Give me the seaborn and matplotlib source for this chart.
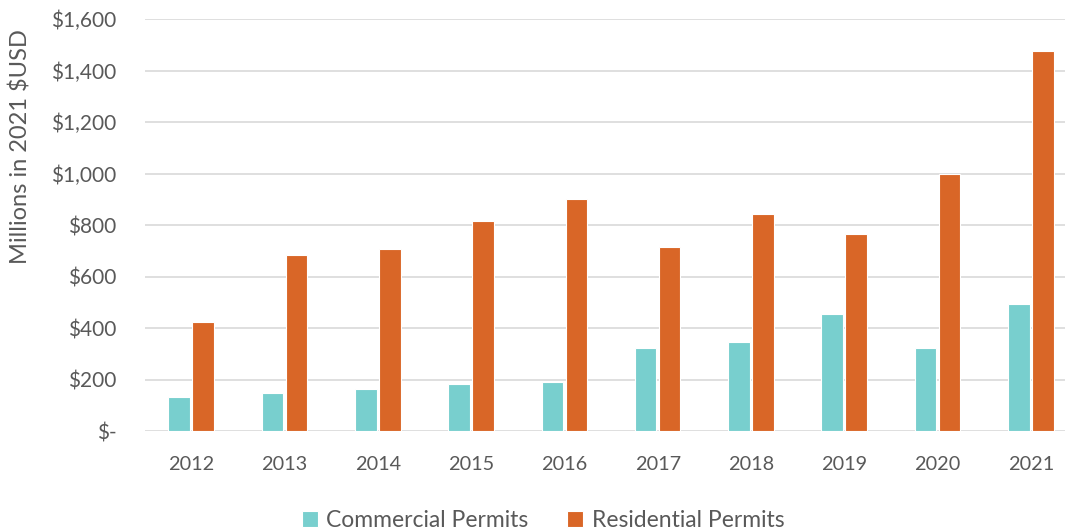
import matplotlib
matplotlib.use("Agg")
import matplotlib.pyplot as plt
import seaborn as sns
import pandas as pd
from matplotlib.ticker import FuncFormatter

years = ["2012", "2013", "2014", "2015", "2016", "2017", "2018", "2019", "2020", "2021"]
commercial = [131, 147, 164, 184, 190, 321, 346, 456, 321, 495]
residential = [422, 684, 707, 814, 902, 714, 843, 767, 999, 1475]
series_names = ["Commercial Permits", "Residential Permits"]
colors = ["#78CFCE", "#D96627"]

df = pd.DataFrame({
    "year": years * 2,
    "value": commercial + residential,
    "series": [series_names[0]] * len(years) + [series_names[1]] * len(years),
})

sns.set_theme(style="white")
plt.rcParams["font.family"] = ["Lato", "DejaVu Sans"]
text_color = "#595959"

fig = plt.figure(figsize=(10.65, 5.29), dpi=100)
ax = fig.add_axes([0.1357, 0.185, 0.876, 0.779])

sns.barplot(data=df, x="year", y="value", hue="series", palette=colors,
            width=0.515, gap=0.1, edgecolor="white", linewidth=0.8,
            saturation=1, ax=ax, legend=True)

ax.set_ylim(0, 1600)
ax.set_yticks(range(0, 1601, 200))
ax.yaxis.set_major_formatter(FuncFormatter(lambda v, p: "$-" if v == 0 else f"${v:,.0f}"))
ax.grid(axis="y", color="#D9D9D9", linewidth=1.2)
ax.set_axisbelow(True)
for s in ax.spines.values():
    s.set_visible(False)

ax.tick_params(axis="x", length=0, labelsize=14.3, labelcolor=text_color, pad=18)
ax.tick_params(axis="y", length=0, labelsize=15, labelcolor=text_color, pad=20)
ax.set_xlabel("")
ax.set_ylabel("Millions in 2021 $USD", fontsize=17, color=text_color)
ax.yaxis.set_label_coords(-0.121, 0.69)

handles, labels = ax.get_legend_handles_labels()
ax.legend_.remove()
fig.legend(handles, labels, loc="lower center", bbox_to_anchor=(0.51, -0.042), ncol=2,
           frameon=False, fontsize=16.5, labelcolor=text_color,
           handlelength=0.7, handleheight=0.7, handletextpad=0.35, columnspacing=1.7)

fig.savefig("out.png", dpi=100)
